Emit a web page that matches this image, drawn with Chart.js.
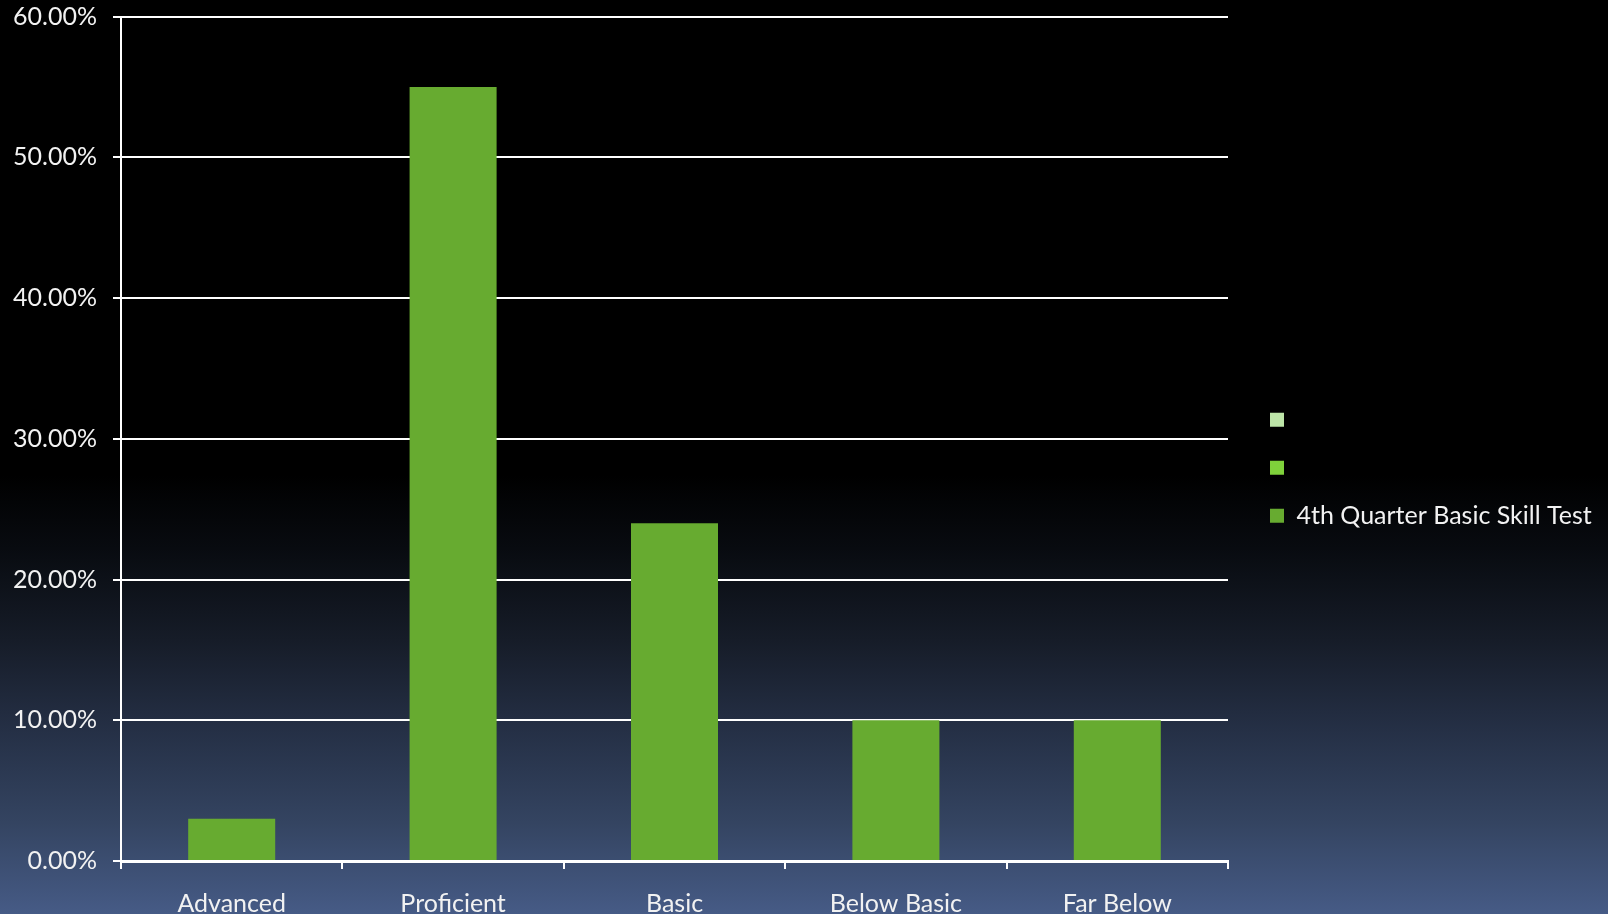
<!DOCTYPE html>
<html>
<head>
<meta charset="utf-8">
<script src="https://cdn.jsdelivr.net/npm/chart.js@4/dist/chart.umd.min.js"></script>
<style>
  html, body { margin: 0; padding: 0; background: #000; }
  #wrap { width: 1608px; height: 914px; position: relative; }
</style>
</head>
<body>
<div id="wrap"><canvas id="chart" width="1608" height="914"></canvas></div>
<script>
// Skill levels on the x axis
const categories = ['Advanced', 'Proficient', 'Basic', 'Below Basic', 'Far Below'];

// Share of students at each level (percent)
const quarter4Values = [3, 55, 24, 10, 10];

// Two unlabeled series that only show up in the legend
const emptySeriesA = [null, null, null, null, null];
const emptySeriesB = [null, null, null, null, null];

const seriesLabels = ['', '', '4th Quarter Basic Skill Test'];
const seriesColors = ['#bde5a8', '#7fd13b', '#67ab30'];

// Y axis range
const yMin = 0;
const yMax = 60;
const yStep = 10;

const FONT = 'Lato, "Open Sans", "DejaVu Sans", sans-serif';
const FONT_SIZE = 25;
const TEXT = '#f2f2f2';

// Slide-style background: black at the top fading into slate blue
const backdrop = {
  id: 'backdrop',
  beforeDraw(chart) {
    const { ctx, width, height } = chart;
    const g = ctx.createLinearGradient(0, 0, 0, height);
    g.addColorStop(0.0, '#000000');
    g.addColorStop(0.52, '#000000');
    g.addColorStop(0.60, '#080b10');
    g.addColorStop(0.70, '#161c28');
    g.addColorStop(0.80, '#253046');
    g.addColorStop(0.90, '#344461');
    g.addColorStop(1.0, '#465b86');
    ctx.save();
    ctx.fillStyle = g;
    ctx.fillRect(0, 0, width, height);
    ctx.restore();
  }
};

// Legend column: fixed width, items inset from the plot edge
const LEGEND_WIDTH = 380;
const LEGEND_INSET = 19;
const LEGEND_SHIFT_Y = -7;
const legendSpacing = {
  id: 'legendSpacing',
  beforeUpdate(chart) {
    const lg = chart.legend;
    if (!lg || lg._spaced) return;
    lg._spaced = true;
    const fit = lg.fit;
    const draw = lg.draw;
    lg.fit = function () { fit.call(this); this.width = LEGEND_WIDTH; };
    lg.draw = function () {
      this.left += LEGEND_INSET;
      this.top += LEGEND_SHIFT_Y;
      this.bottom += LEGEND_SHIFT_Y;
      draw.call(this);
      this.left -= LEGEND_INSET;
      this.top -= LEGEND_SHIFT_Y;
      this.bottom -= LEGEND_SHIFT_Y;
    };
  }
};

const datasets = [emptySeriesA, emptySeriesB, quarter4Values].map((values, i) => ({
  label: seriesLabels[i],
  data: values,
  backgroundColor: seriesColors[i],
  borderWidth: 0,
  skipNull: true,
  barPercentage: 0.393,
  categoryPercentage: 1.0
}));

new Chart(document.getElementById('chart'), {
  type: 'bar',
  data: { labels: categories, datasets },
  plugins: [backdrop, legendSpacing],
  options: {
    responsive: false,
    animation: false,
    layout: { padding: { top: 10.4, right: 0, bottom: -25, left: 0 } },
    plugins: {
      tooltip: { enabled: false },
      legend: {
        position: 'right',
        align: 'center',
        labels: {
          color: TEXT,
          boxWidth: 14,
          boxHeight: 14,
          padding: 23,
          font: { family: FONT, size: FONT_SIZE }
        }
      }
    },
    scales: {
      x: {
        offset: true,
        grid: {
          display: true,
          offset: true,
          drawOnChartArea: false,
          drawTicks: true,
          tickLength: 8,
          color: '#ffffff',
          lineWidth: 2
        },
        border: { display: true, color: '#ffffff', width: 3 },
        ticks: {
          color: TEXT,
          padding: 20,
          maxRotation: 0,
          autoSkip: false,
          font: { family: FONT, size: FONT_SIZE }
        }
      },
      y: {
        min: yMin,
        max: yMax,
        afterFit(scale) { scale.width = 121; },
        grid: {
          color: '#ffffff',
          lineWidth: 2,
          drawTicks: true,
          tickLength: 8
        },
        border: { display: true, color: '#ffffff', width: 2 },
        ticks: {
          stepSize: yStep,
          color: TEXT,
          padding: 16,
          font: { family: FONT, size: FONT_SIZE, lineHeight: 0.04 },
          callback: (v) => Number(v).toFixed(2) + '%'
        }
      }
    }
  }
});
</script>
</body>
</html>
